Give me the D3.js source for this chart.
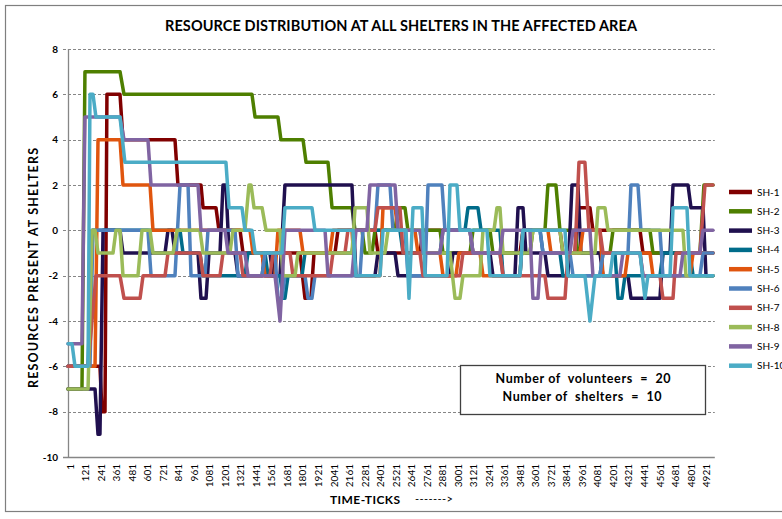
<!DOCTYPE html>
<html>
<head>
<meta charset="utf-8">
<script src="https://cdn.jsdelivr.net/npm/d3@7"></script>
<style>
  body { margin: 0; background: #fff; }
  text { font-family: Lato, "Open Sans", sans-serif; fill: #000; }
</style>
</head>
<body>
<script>
// ---- data ----
const shelters = ["SH-1", "SH-2", "SH-3", "SH-4", "SH-5", "SH-6", "SH-7", "SH-8", "SH-9", "SH-10"];
const colors = ["#800000", "#4e7f00", "#20104f", "#006c8a", "#e0550e", "#4f81bd", "#c0504d", "#9bbb59", "#8064a2", "#4bacc6"];
const yTicks = [-10, -8, -6, -4, -2, 0, 2, 4, 6, 8];
const xTicks = [1, 121, 241, 361, 481, 601, 721, 841, 961, 1081, 1201, 1321, 1441, 1561, 1681, 1801, 1921, 2041, 2161, 2281,
  2401, 2521, 2641, 2761, 2881, 3001, 3121, 3241, 3361, 3481, 3601, 3721, 3841, 3961, 4081, 4201, 4321, 4441, 4561, 4681, 4801, 4921];

// plateaus: [first tick, last tick, resources]
const SH1 = [[0,247,-6],[263,286,-8],[301,402,6],[425,827,4],[850,1028,2],[1044,1144,1],[1167,1330,0],[1353,1500,-1],[1523,1577,-2],
  [1600,1793,-1],[1832,1878,-3],[1902,2064,-1],[2087,2373,0],[2396,2721,-1],[2744,3107,0],[3131,3494,-1],[3517,3803,0],[3826,3919,-1],
  [3942,4035,1],[4058,4422,0],[4445,4986,-1]];
const SH2 = [[0,108,-7],[131,402,7],[433,1422,6],[1446,1623,5],[1646,1817,4],[1840,2010,3],[2041,2195,1],[2219,2273,0],[2296,2350,-1],
  [2373,2528,0],[2551,2605,1],[2628,2876,0],[2899,3107,-1],[3131,3262,0],[3285,3571,-1],[3594,3687,0],[3710,3772,2],[3803,3919,0],
  [3942,4190,-1],[4213,4499,0],[4522,4885,-1],[4916,4986,2]];
const SH3 = [[0,209,-7],[232,247,-9],[271,402,0],[425,750,-1],[773,804,0],[827,1005,-1],[1028,1067,-3],[1090,1175,-1],[1198,1221,2],
  [1245,1291,-1],[1314,1500,-2],[1523,1561,-1],[1585,1639,-2],[1677,2195,2],[2226,2373,-2],[2396,2528,-1],[2551,2953,-2],[2976,3262,-1],
  [3285,3455,-2],[3479,3517,1],[3540,3687,-1],[3710,3865,-2],[3896,3942,2],[3965,4112,-1],[4136,4329,-2],[4352,4576,-3],[4599,4654,-1],
  [4677,4793,2],[4816,4909,1],[4932,4986,-2]];
const SH4 = [[0,155,-6],[186,866,0],[889,1020,-1],[1044,1368,-2],[1391,1523,-1],[1546,1639,-2],[1662,1677,-3],[1701,1809,-2],[1832,2195,-1],
  [2219,2566,0],[2590,2876,-1],[2899,3069,0],[3092,3169,1],[3193,3339,0],[3363,3494,-2],[3517,3649,0],[3672,3803,-1],[3826,4112,-2],
  [4136,4228,-1],[4252,4282,-3],[4306,4576,-2],[4599,4808,-1],[4832,4986,-2]];
const SH5 = [[0,209,-6],[232,402,4],[425,634,2],[657,1407,0],[1430,1500,-1],[1523,1600,-2],[1623,1793,0],[1817,2025,-1],[2048,2195,0],
  [2219,2412,-2],[2435,2528,1],[2551,2682,0],[2705,2876,-1],[2899,2999,-2],[3022,3185,-1],[3208,3494,-2],[3517,3710,0],[3734,3958,-1],
  [3981,4112,0],[4136,4306,-2],[4329,4499,-1],[4522,4808,-2],[4832,4986,-1]];
const SH6 = [[0,170,-6],[193,618,0],[642,827,-2],[866,928,2],[951,1059,-2],[1082,1291,0],[1314,1500,-2],[1523,1600,-1],[1623,1654,-3],
  [1677,1832,-2],[1855,1886,-3],[1909,2257,-2],[2280,2373,0],[2396,2489,2],[2512,2605,0],[2628,2760,-2],[2783,2891,2],[2914,3107,0],
  [3131,3339,-1],[3363,3494,-2],[3517,3649,0],[3672,3880,-1],[3904,4112,-2],[4136,4329,-1],[4352,4406,2],[4429,4576,0],[4599,4885,-2],
  [4909,4986,-1]];
const SH7 = [[0,155,-6],[216,402,-2],[433,557,-3],[580,750,-2],[773,1020,-1],[1044,1175,-2],[1198,1330,-1],[1353,1561,-2],[1585,1716,-1],
  [1739,2025,-2],[2048,2141,-1],[2164,2373,0],[2396,2566,1],[2590,2721,-1],[2744,3030,-2],[3053,3339,-1],[3363,3687,-2],[3710,3842,-3],
  [3865,3919,-1],[3950,3996,3],[4027,4112,0],[4136,4422,-1],[4445,4576,-2],[4599,4677,-3],[4700,4885,-1],[4924,4986,2]];
const SH8 = [[0,155,-7],[186,209,0],[232,348,-1],[371,402,0],[425,541,-2],[572,634,0],[657,812,-1],[843,1020,0],[1044,1252,-1],
  [1275,1368,0],[1399,1415,2],[1438,1500,1],[1531,1639,0],[1662,1755,-2],[1778,2195,-1],[2219,2311,1],[2334,2450,-1],[2474,2721,0],
  [2744,2953,-1],[2992,3030,-3],[3053,3185,-2],[3208,3293,0],[3316,3339,1],[3363,3571,-1],[3594,3803,0],[3826,4074,-1],[4097,4151,1],
  [4174,4754,0],[4777,4986,-2]];
const SH9 = [[0,108,-5],[131,402,5],[433,618,4],[642,1005,2],[1028,1214,0],[1237,1368,-1],[1391,1600,-2],[1639,1639,-4],[1677,1987,0],
  [2010,2195,-2],[2226,2311,0],[2334,2528,2],[2551,2721,0],[2744,2876,-1],[2899,3107,0],[3131,3339,-1],[3363,3571,0],[3594,3633,-3],
  [3656,3880,-1],[3904,4035,0],[4058,4266,-2],[4290,4422,-1],[4445,4731,-2],[4754,4885,-1],[4909,4986,0]];
const SH10 = [[0,31,-5],[54,155,-6],[170,193,6],[216,402,5],[440,1221,3],[1245,1345,1],[1368,1422,0],[1446,1654,-1],[1677,1886,1],
  [1909,2203,0],[2226,2412,-2],[2435,2613,0],[2636,2636,-3],[2667,2736,1],[2760,2930,-2],[2953,3007,2],[3030,3239,0],[3262,3494,-2],
  [3517,3842,0],[3865,3996,-2],[4035,4035,-4],[4074,4190,-2],[4213,4422,-1],[4460,4460,-3],[4483,4654,-2],[4677,4785,1],[4808,4986,-2]];
const series = [SH1, SH2, SH3, SH4, SH5, SH6, SH7, SH8, SH9, SH10];

// ---- chart ----
const W = 782, H = 519;
const svg = d3.select("body").append("svg")
    .attr("width", W)
    .attr("height", H);

// outer chart border
svg.append("rect")
    .attr("x", 5.5).attr("y", 5.5)
    .attr("width", 790).attr("height", 506)
    .attr("fill", "#fff")
    .attr("stroke", "#7f7f7f")
    .attr("stroke-width", 1.2);

const x = d3.scaleLinear().domain([0, 5000]).range([68, 714.8]);
const y = d3.scaleLinear().domain([-10, 8]).range([457, 49]);

// gridlines
svg.append("g")
  .selectAll("line")
  .data(yTicks.filter(d => d > -10))
  .join("line")
    .attr("x1", 63).attr("x2", x(5000))
    .attr("y1", d => Math.round(y(d)) + 0.5)
    .attr("y2", d => Math.round(y(d)) + 0.5)
    .attr("stroke", "#868686")
    .attr("stroke-dasharray", "3,2");

// axes lines
svg.append("line")
    .attr("x1", 68.5).attr("x2", 68.5)
    .attr("y1", y(8)).attr("y2", y(-10))
    .attr("stroke", "#868686").attr("stroke-width", 1.3);
svg.append("line")
    .attr("x1", 63).attr("x2", x(5000))
    .attr("y1", y(-10) + 0.5).attr("y2", y(-10) + 0.5)
    .attr("stroke", "#868686").attr("stroke-width", 1.3);

// y tick labels
svg.append("g")
  .selectAll("text")
  .data(yTicks)
  .join("text")
    .attr("x", 58)
    .attr("y", d => y(d))
    .attr("dy", "0.35em")
    .attr("text-anchor", "end")
    .attr("font-size", 10)
    .attr("font-weight", "bold")
    .text(d => d);

// x tick labels
svg.append("g")
  .selectAll("text")
  .data(xTicks)
  .join("text")
    .attr("transform", d => `translate(${x(d)},464) rotate(-90)`)
    .attr("dy", "0.55em")
    .attr("text-anchor", "end")
    .attr("font-size", 10)
    .text(d => d);

// series lines
const line = d3.line()
    .x(d => x(d[0]))
    .y(d => y(d[1]));

svg.append("g")
  .selectAll("path")
  .data(series)
  .join("path")
    .attr("d", s => line(s.flatMap(p => [[p[0], p[2]], [p[1], p[2]]])))
    .attr("fill", "none")
    .attr("stroke", (s, i) => colors[i])
    .attr("stroke-width", 3.5)
    .attr("stroke-linejoin", "round")
    .attr("stroke-linecap", "round");

// legend
const legend = svg.append("g")
  .selectAll("g")
  .data(shelters)
  .join("g")
    .attr("transform", (d, i) => `translate(729,${192 + i * 19.3})`);
legend.append("line")
    .attr("x1", 0).attr("x2", 23)
    .attr("stroke", (d, i) => colors[i])
    .attr("stroke-width", 4.5);
legend.append("text")
    .attr("x", 28)
    .attr("dy", "0.35em")
    .attr("font-size", 10)
    .text(d => d);

// info box
svg.append("rect")
    .attr("x", 460.5).attr("y", 365.5)
    .attr("width", 245).attr("height", 49)
    .attr("fill", "#fff")
    .attr("stroke", "#404040")
    .attr("stroke-width", 1.3);
svg.append("text")
    .attr("x", 583).attr("y", 383)
    .attr("text-anchor", "middle")
    .attr("font-size", 12.5)
    .attr("font-weight", "bold")
    .attr("textLength", 175)
    .style("white-space", "pre")
    .text("Number of  volunteers  =  20");
svg.append("text")
    .attr("x", 582).attr("y", 401)
    .attr("text-anchor", "middle")
    .attr("font-size", 12.5)
    .attr("font-weight", "bold")
    .attr("textLength", 159)
    .style("white-space", "pre")
    .text("Number of  shelters  =  10");

// titles
svg.append("text")
    .attr("x", 401).attr("y", 31)
    .attr("text-anchor", "middle")
    .attr("font-size", 14.5)
    .attr("font-weight", "bold")
    .attr("textLength", 472)
    .text("RESOURCE DISTRIBUTION AT ALL SHELTERS IN THE AFFECTED AREA");

svg.append("text")
    .attr("transform", "translate(38,268) rotate(-90)")
    .attr("text-anchor", "middle")
    .attr("font-size", 12.5)
    .attr("font-weight", "bold")
    .attr("textLength", 240)
    .text("RESOURCES PRESENT AT SHELTERS");

svg.append("text")
    .attr("x", 330).attr("y", 504)
    .attr("font-size", 12)
    .attr("font-weight", "bold")
    .attr("textLength", 70)
    .text("TIME-TICKS");
svg.append("text")
    .attr("x", 415).attr("y", 503)
    .attr("font-size", 11)
    .attr("textLength", 38)
    .text("------->");
</script>
</body>
</html>
